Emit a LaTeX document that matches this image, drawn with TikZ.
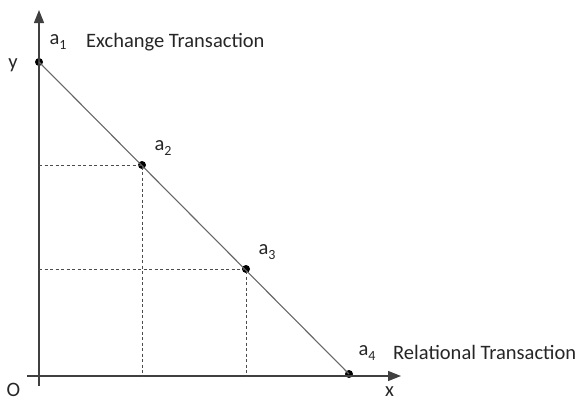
\documentclass[tikz,border=0pt]{standalone}
\usepackage{fontspec}
\setmainfont{Carlito}
\usetikzlibrary{arrows.meta}
\newcommand\subidx[1]{\raisebox{-0.45ex}{\fontsize{14}{14}\selectfont #1}}
\tikzset{
  axis/.style={draw=black!75, line width=1.3pt, -{Triangle[length=13pt,width=10pt]}},
  mainline/.style={draw=black!60, line width=1.1pt},
  guide/.style={draw=black!70, line width=0.9pt, dash pattern=on 3pt off 2.5pt},
  pt/.style={circle, fill=black, inner sep=0pt, minimum size=8pt},
  lbl/.style={font=\fontsize{20.5}{23}\selectfont, text=black!85, inner sep=0pt}
}
\begin{document}
\begin{tikzpicture}[x=1pt,y=-1pt]
\useasboundingbox (0,0) rectangle (578,400);
\coordinate (xstart) at (27,376);
\coordinate (xend) at (401,376);
\coordinate (ystart) at (39,386);
\coordinate (yend) at (39,10);
\coordinate (y2) at (39,165);
\coordinate (y3) at (39,269);
\coordinate (x2) at (142,376);
\coordinate (x3) at (246,376);
\node[pt] (a1) at (39,62) {};
\node[pt] (a2) at (142,165) {};
\node[pt] (a3) at (246,269) {};
\node[pt] (a4) at (349,374) {};
\draw[axis] (xstart) -- (xend);
\draw[axis] (ystart) -- (yend);
\draw[mainline] (a1.center) -- (a4.center);
\draw[guide] (y2) -- (a2.center) -- (x2);
\draw[guide] (y3) -- (a3.center) -- (x3);
\node[lbl] (ly) at (13,65) {y};
\node[lbl, anchor=base] (lO) at (13.5,396) {O};
\node[lbl, anchor=base] (lx) at (389.5,396) {x};
\node[lbl] (la1) at (58,42) {a\subidx{1}};
\node[lbl, anchor=west] (ex) at (86,42) {Exchange Transaction};
\node[lbl] (la2) at (163,148) {a\subidx{2}};
\node[lbl] (la3) at (267,252) {a\subidx{3}};
\node[lbl] (la4) at (367,353) {a\subidx{4}};
\node[lbl, anchor=west] (rel) at (393,352) {Relational Transaction};
\end{tikzpicture}
\end{document}
